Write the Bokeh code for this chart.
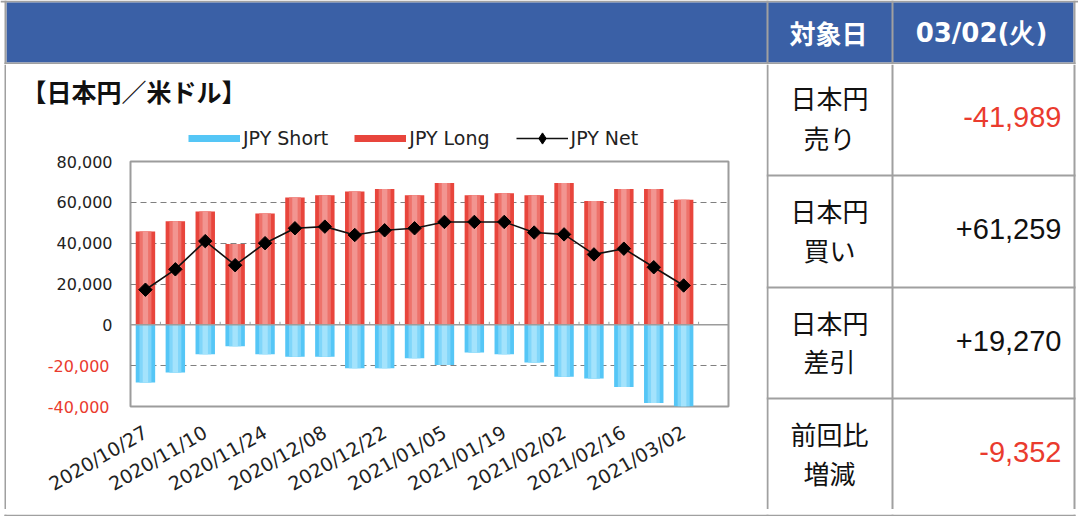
import math
from bokeh.plotting import figure
from bokeh.layouts import row, column
from bokeh.models import (Range1d, FixedTicker, NumeralTickFormatter, Span, LinearAxis,
                          Legend, LegendItem, ColumnDataSource)
from bokeh.core.properties import value
from bokeh.embed import file_html
from bokeh.resources import INLINE

# ---------------- data ----------------
weeks = ["2020/10/27", "2020/11/03", "2020/11/10", "2020/11/17", "2020/11/24",
         "2020/12/01", "2020/12/08", "2020/12/15", "2020/12/22", "2020/12/29",
         "2021/01/05", "2021/01/12", "2021/01/19", "2021/01/26", "2021/02/02",
         "2021/02/09", "2021/02/16", "2021/02/23", "2021/03/02"]
jpy_long = [45700, 50700, 55500, 39600, 54500, 62400, 63500, 65300, 66500, 63500,
            69500, 63500, 64500, 63500, 69500, 60600, 66500, 66500, 61259]
jpy_short = [-28200, -23300, -14400, -10500, -14400, -15600, -15600, -21300, -21300, -16400,
             -19700, -13500, -14400, -18400, -25400, -26300, -30400, -38300, -41989]
jpy_net = [17200, 27200, 41000, 29200, 40000, 47300, 48100, 44000, 46300, 47300,
           50400, 50400, 50400, 45200, 44300, 34500, 37300, 28200, 19270]

series_names = ["JPY Short", "JPY Long", "JPY Net"]
pos_ticks = [0, 20000, 40000, 60000, 80000]
neg_ticks = [-20000, -40000]

chart_title = "【日本円／米ドル】"
header_labels = ["対象日", "03/02(火)"]
row_labels = [("日本円", "売り"), ("日本円", "買い"), ("日本円", "差引"), ("前回比", "増減")]
row_values = ["-41,989", "+61,259", "+19,270", "-9,352"]

# ---------------- styles ----------------
BLUE_HDR = "#3A60A6"
LINE_GRAY = "#A0A0A0"
RED_TXT = "#EA3B2E"
RED_BAR = "#E8453C"
RED_MID = "#EE726B"
RED_IN = "#F29591"
BLU_BAR = "#55C6F6"
BLU_MID = "#80D6FA"
BLU_IN = "#A4E3FC"
CJK = "Noto Sans CJK JP"
LAT = "DejaVu Sans"


def canvas(x0, x1, y0, y1):
    """A blank figure whose data space is page pixels (y grows downward)."""
    f = figure(width=x1 - x0, height=y1 - y0, x_range=Range1d(x0, x1),
               y_range=Range1d(y1, y0), x_axis_type=None, y_axis_type=None,
               toolbar_location=None, output_backend="svg", min_border=0)
    f.outline_line_color = None
    f.background_fill_color = "white"
    f.border_fill_color = "white"
    return f


def bar(f, l, r, t, b, color):
    f.quad(left=[l], right=[r], top=[t], bottom=[b], fill_color=color, line_color=None)


def txt(f, x, y, s, size, color="#111111", font=CJK, style="normal", align="center"):
    f.text(x=[x], y=[y], text=[s], text_align=align, text_baseline="middle",
           text_font=value(font), text_font_size=size, text_font_style=style,
           text_color=color)


V_LINES = [(4, 6), (766, 768), (891, 893), (1073, 1075)]

# ---------------- header strip ----------------
hdr = canvas(0, 1078, 0, 64)
bar(hdr, 0, 1078, 0, 2, LINE_GRAY)
bar(hdr, 6, 1073, 2, 62, BLUE_HDR)
bar(hdr, 4, 1075, 62, 64, LINE_GRAY)
for a, b in V_LINES:
    bar(hdr, a, b, 0, 64, LINE_GRAY)
txt(hdr, 828, 32, header_labels[0], "26px", color="white", style="bold")
txt(hdr, 981, 32, header_labels[1], "26px", color="white", font=LAT, style="bold")

# ---------------- left border strip ----------------
strip = canvas(0, 6, 64, 509)
bar(strip, 4, 6, 64, 509, LINE_GRAY)

# ---------------- title + legend ----------------
ttl = canvas(6, 766, 64, 150)
txt(ttl, 21, 90, chart_title, "25px", style="bold", align="left")
nan = float("nan")
proxy = ColumnDataSource(dict(x=[nan], y=[nan]))
sw_short = ttl.line(x="x", y="y", source=proxy, line_color=BLU_BAR, line_width=7)
sw_long = ttl.line(x="x", y="y", source=proxy, line_color=RED_BAR, line_width=7)
sw_net_l = ttl.line(x="x", y="y", source=proxy, line_color="#111111", line_width=1.6)
sw_net_p = ttl.scatter(x="x", y="y", source=proxy, marker="diamond",
                       fill_color="black", line_color="black")
legend = Legend(items=[LegendItem(label=series_names[0], renderers=[sw_short]),
                       LegendItem(label=series_names[1], renderers=[sw_long]),
                       LegendItem(label=series_names[2], renderers=[sw_net_l, sw_net_p])],
                orientation="horizontal", location=(188 - 6, -2),
                glyph_width=52, glyph_height=28, label_height=28, label_standoff=3,
                spacing=26, padding=0, margin=0, border_line_color=None,
                background_fill_alpha=0, label_text_font=LAT,
                label_text_font_size="19px", label_text_color="#222222")
ttl.add_layout(legend, "center")

# ---------------- the chart ----------------
idx = list(range(len(weeks)))
src = ColumnDataSource(dict(x=idx, long=jpy_long, short=jpy_short, net=jpy_net,
                            tick=[i + 0.5 for i in idx], zero=[0] * len(idx),
                            tick_top=[1500] * len(idx)))

p = figure(width=760, height=359, output_backend="svg", toolbar_location=None,
           x_range=Range1d(-0.5, 19.5), y_range=Range1d(-40000, 80000),
           min_border_left=124, min_border_right=38, min_border_top=11,
           min_border_bottom=103)
p.background_fill_color = "white"
p.border_fill_color = "white"
p.outline_line_color = "#9C9C9C"
p.outline_line_width = 2

p.vbar(x="x", top="long", bottom=0, width=0.65, source=src, fill_color=RED_BAR, line_color=None)
p.vbar(x="x", top="long", bottom=0, width=0.40, source=src, fill_color=RED_MID, line_color=None)
p.vbar(x="x", top="long", bottom=0, width=0.18, source=src, fill_color=RED_IN, line_color=None)
p.vbar(x="x", top=0, bottom="short", width=0.65, source=src, fill_color=BLU_BAR, line_color=None)
p.vbar(x="x", top=0, bottom="short", width=0.40, source=src, fill_color=BLU_MID, line_color=None)
p.vbar(x="x", top=0, bottom="short", width=0.18, source=src, fill_color=BLU_IN, line_color=None)

p.add_layout(Span(location=0, dimension="width", line_color="#9C9C9C", line_width=1.5))
p.segment(x0="tick", y0="zero", x1="tick", y1="tick_top", source=src,
          line_color="#9C9C9C", line_width=1)

p.line(x="x", y="net", source=src, line_color="#111111", line_width=1.6)
p.scatter(x="x", y="net", source=src, marker="square", size=9.5, angle=math.pi / 4,
          fill_color="black", line_color="black")

xa = p.xaxis[0]
xa.ticker = FixedTicker(ticks=idx[::2])
xa.major_label_overrides = {i: weeks[i] for i in idx[::2]}
xa.major_label_orientation = math.pi / 6
xa.major_label_text_font = LAT
xa.major_label_text_font_size = "19px"
xa.major_label_text_color = "#222222"
xa.major_label_standoff = 24
xa.axis_line_color = None
xa.major_tick_line_color = None
xa.minor_tick_line_color = None
xa.major_tick_out = 0

ya = p.yaxis[0]
ya.ticker = FixedTicker(ticks=pos_ticks)
ya.formatter = NumeralTickFormatter(format="0,0")
ya.major_label_text_font = LAT
ya.major_label_text_font_size = "16px"
ya.major_label_text_color = "#222222"
ya.major_label_standoff = 18
ya.axis_line_color = None
ya.major_tick_line_color = None
ya.minor_tick_line_color = None
ya.major_tick_out = 0
ya.major_tick_in = 0

# red labels for the negative ticks: a second left axis pulled back into line
ya2 = LinearAxis(ticker=FixedTicker(ticks=neg_ticks), formatter=NumeralTickFormatter(format="0,0"),
                 major_label_text_font=LAT, major_label_text_font_size="16px",
                 major_label_text_color=RED_TXT, major_label_standoff=-56,
                 axis_line_color=None, major_tick_line_color=None, minor_tick_line_color=None,
                 major_tick_out=0, major_tick_in=0)
p.add_layout(ya2, "left")

p.xgrid.grid_line_color = None
p.ygrid.ticker = FixedTicker(ticks=[-20000, 20000, 40000, 60000])
p.ygrid.grid_line_color = "#808080"
p.ygrid.grid_line_dash = "6 4"
p.ygrid.grid_line_width = 1

# ---------------- right-hand table ----------------
tab = canvas(766, 1078, 64, 509)
for a, b in V_LINES[1:]:
    bar(tab, a, b, 64, 509, LINE_GRAY)
for yl in (174, 286, 397):
    bar(tab, 766, 1075, yl, yl + 2, LINE_GRAY)
label_y = [(97, 136.5), (209.5, 248.5), (321.5, 360), (433, 471.5)]
value_y = [116.7, 228, 340, 451.7]
for (l1, l2), (y1, y2), v, yv in zip(row_labels, label_y, row_values, value_y):
    txt(tab, 829, y1, l1, "26px")
    txt(tab, 829, y2, l2, "26px")
    txt(tab, 1061, yv, v, "29px", color=RED_TXT if v.startswith("-") else "#111111",
        font="Liberation Sans", align="right")

# ---------------- bottom strip ----------------
bot = canvas(0, 1078, 509, 516)
bar(bot, 4, 1075, 509, 511, LINE_GRAY)
for a, b in V_LINES:
    bar(bot, a, b, 509, 516, LINE_GRAY)

left_block = column(column(ttl), column(p), spacing=0)
page = column(hdr, row(strip, left_block, tab, spacing=0), bot, spacing=0)
open("out.html", "w").write(file_html(page, INLINE))
